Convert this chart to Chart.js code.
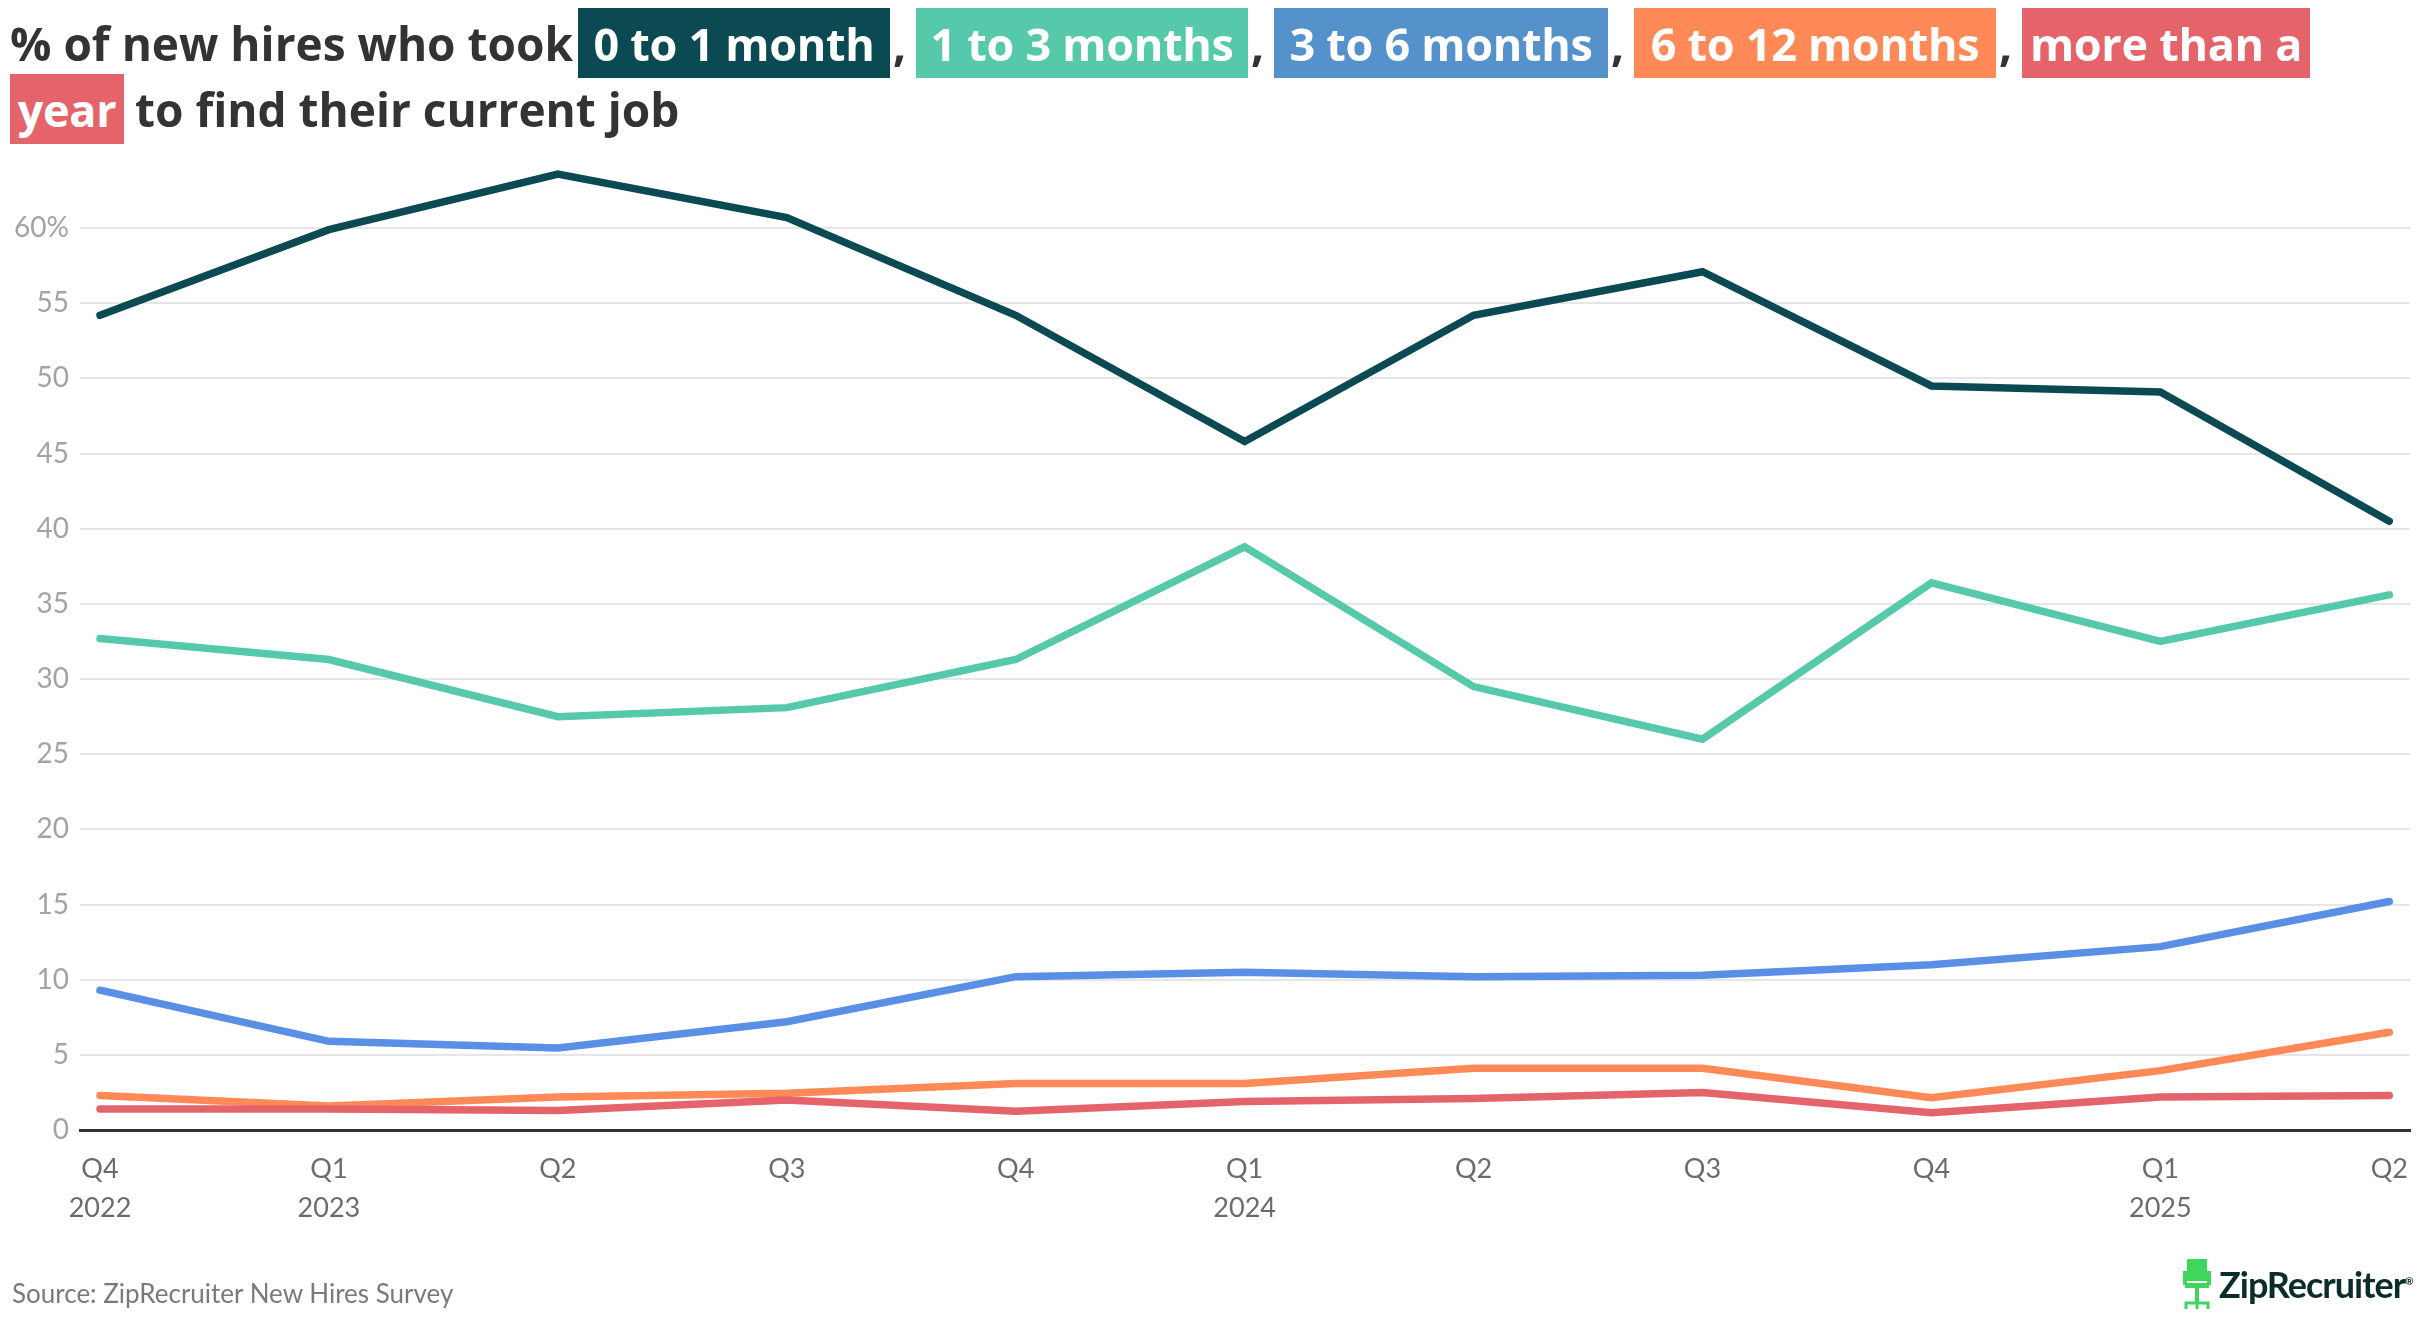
<!DOCTYPE html>
<html>
<head>
<meta charset="utf-8">
<script src="https://cdn.jsdelivr.net/npm/chart.js@4.4.1/dist/chart.umd.min.js"></script>
<style>
  html, body { margin: 0; padding: 0; background: #fff; }
  #wrap { position: relative; width: 2420px; height: 1320px; overflow: hidden; font-family: "Open Sans", Lato, sans-serif; }
  #chart { position: absolute; left: 0; top: 0; }
  .t, .box { position: absolute; display: flex; align-items: center; white-space: nowrap; font-weight: 700; font-size: 45px; letter-spacing: -0.3px; }
  .t { color: #333; font-size: 46px; letter-spacing: 0; }
  .box { color: #fff; justify-content: center; }
  .l1 { top: 8px; height: 70px; }
  .l2 { top: 74px; height: 70px; }
  #source { position: absolute; left: 12px; top: 1277px; font-family: Lato, sans-serif; font-size: 26px; color: #7a7a7a; }
  #logo { position: absolute; left: 2181px; top: 1256px; height: 56px; display: flex; align-items: center; }
  #logo span { font-family: Lato, sans-serif; font-weight: 700; font-size: 36px; color: #0c2b2b; letter-spacing: -1px; margin-left: 6px; }
</style>
</head>
<body>
<div id="wrap">
  <canvas id="chart" width="2420" height="1320"></canvas>

  <div class="t l1" style="left:10px">% of new hires who took</div>
  <div class="box l1" style="left:578px;width:312px;background:#0b4a53">0 to 1 month</div>
  <div class="t l1" style="left:893px">,</div>
  <div class="box l1" style="left:916px;width:332px;background:#55c9a9">1 to 3 months</div>
  <div class="t l1" style="left:1251px">,</div>
  <div class="box l1" style="left:1274px;width:334px;background:#5591cb">3 to 6 months</div>
  <div class="t l1" style="left:1611px">,</div>
  <div class="box l1" style="left:1634px;width:362px;background:#ff8a57">6 to 12 months</div>
  <div class="t l1" style="left:1999px">,</div>
  <div class="box l1" style="left:2022px;width:288px;background:#e5646b">more than a</div>
  <div class="box l2" style="left:10px;width:114px;background:#e5646b">year</div>
  <div class="t l2" style="left:135px">to find their current job</div>

  <div id="source">Source: ZipRecruiter New Hires Survey</div>
  <div id="logo">
    <svg width="32" height="54" viewBox="0 0 32 54">
      <rect x="6" y="2" width="20" height="22" fill="#3fd65e"/>
      <rect x="2" y="14" width="4" height="14" fill="#3fd65e"/>
      <rect x="26" y="14" width="4" height="14" fill="#3fd65e"/>
      <rect x="4" y="26" width="24" height="5" fill="#3fd65e"/>
      <rect x="14" y="31" width="4" height="14" fill="#3fd65e"/>
      <path d="M5 52 L5 46 L27 46 L27 52 M16 46 L16 52" stroke="#3fd65e" stroke-width="3" fill="none"/>
    </svg>
    <span>ZipRecruiter<sup style="font-size:10px">®</sup></span>
  </div>
</div>

<script>
const quarters = [["Q4", "2022"], ["Q1", "2023"], ["Q2"], ["Q3"], ["Q4"], ["Q1", "2024"], ["Q2"], ["Q3"], ["Q4"], ["Q1", "2025"], ["Q2"]]
const oneMonth    = [54.2, 59.9, 63.6, 60.7, 54.2, 45.8, 54.2, 57.1, 49.5, 49.1, 40.5]
const oneToThree  = [32.7, 31.3, 27.5, 28.1, 31.3, 38.8, 29.5, 26.0, 36.4, 32.5, 35.6]
const threeToSix  = [9.3, 5.9, 5.45, 7.2, 10.2, 10.5, 10.2, 10.3, 11.0, 12.2, 15.2]
const sixToTwelve = [2.3, 1.6, 2.2, 2.45, 3.1, 3.1, 4.1, 4.1, 2.15, 3.95, 6.5]
const overYear    = [1.4, 1.4, 1.3, 2.0, 1.25, 1.9, 2.1, 2.5, 1.15, 2.2, 2.3]
const yTicks = [0, 5, 10, 15, 20, 25, 30, 35, 40, 45, 50, 55, 60]

function points(values) {
  return values.map((v, i) => ({x: i, y: v}))
}

function series(label, values, color) {
  return {
    label: label,
    data: points(values),
    borderColor: color,
    backgroundColor: color,
    borderWidth: 7.5,
    borderCapStyle: 'round',
    pointRadius: 0,
    tension: 0
  }
}

const ctx = document.getElementById('chart').getContext('2d')
const chart = new Chart(ctx, {
  type: 'line',
  data: {
    datasets: [
      series('more than a year', overYear, '#e5646b'),
      series('6 to 12 months', sixToTwelve, '#ff8a57'),
      series('3 to 6 months', threeToSix, '#5990e6'),
      series('1 to 3 months', oneToThree, '#55c9a9'),
      series('0 to 1 month', oneMonth, '#0b4a53')
    ]
  },
  options: {
    responsive: false,
    animation: false,
    devicePixelRatio: 1,
    layout: { padding: { top: 153, right: 9, left: 0, bottom: 0 } },
    plugins: { legend: { display: false }, tooltip: { enabled: false } },
    scales: {
      x: {
        type: 'linear',
        min: -20 / 229,
        max: 10 + 21 / 229,
        afterBuildTicks: s => { s.ticks = quarters.map((q, i) => ({value: i})) },
        afterFit: s => { s.height = 190 },
        grid: { display: false },
        border: { display: true, color: '#333', width: 3 },
        ticks: {
          autoSkip: false,
          maxRotation: 0,
          padding: 12,
          color: '#6b6b6b',
          font: { family: 'Lato', size: 27, lineHeight: 1.45 },
          callback: v => quarters[v]
        }
      },
      y: {
        min: 0,
        max: 65,
        afterBuildTicks: s => { s.ticks = yTicks.map(v => ({value: v})) },
        afterFit: s => { s.width = 80 },
        border: { display: false },
        grid: { color: '#e6e6e6', lineWidth: 2, drawTicks: false },
        ticks: {
          padding: 11,
          color: '#a3a3a3',
          font: { family: 'Lato', size: 28 },
          callback: v => v === 60 ? '60%' : v
        }
      }
    }
  }
})
</script>
</body>
</html>
